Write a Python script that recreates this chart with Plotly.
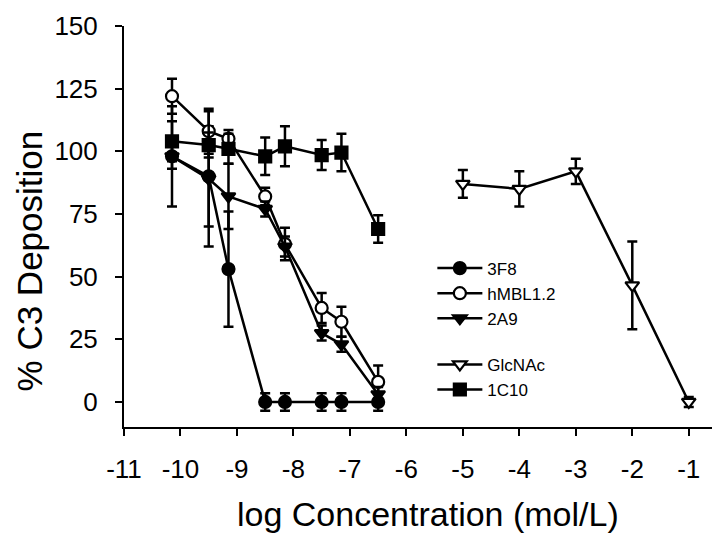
import plotly.graph_objects as go

# x positions (log mol/L)
x_ab = [-10.15, -9.5, -9.15, -8.5, -8.15, -7.5, -7.15, -6.5]
x_glc = [-5, -4, -3, -2, -1]

# series values (% C3 deposition) and error
y_3f8 = [98, 90, 53, 0, 0, 0, 0, 0]
e_3f8 = [20, 20, 23, 3.5, 3.5, 3.5, 3.5, 3.5]

y_hmbl = [122, 108, 105, 82, 63, 37.5, 32, 8]
e_hmbl = [7, 9, 3.5, 3.5, 6.5, 6, 6, 6.5]

y_2a9 = [98, 89, 82, 77, 62, 27.5, 23, 3]
e_2a9 = [5, 27, 13, 3, 4, 3, 3, 3]

y_glc = [87, 85, 92, 46.5, 0]
e_glc = [5.5, 7, 5, 17.5, 2]

y_1c10 = [104, 102.5, 101, 98, 102, 98.5, 99.5, 69]
e_1c10 = [8, 5, 6, 7.5, 8, 6, 7.5, 5.5]

x_ticks = list(range(-11, 0))
y_ticks = [0, 25, 50, 75, 100, 125, 150]

FONT = "Liberation Sans, Arial, sans-serif"

series = [
    ("3F8", x_ab, y_3f8, e_3f8, "circle", "black", "a"),
    ("hMBL1.2", x_ab, y_hmbl, e_hmbl, "circle", "white", "a"),
    ("2A9", x_ab, y_2a9, e_2a9, "triangle-down", "black", "a"),
    ("GlcNAc", x_glc, y_glc, e_glc, "triangle-down", "white", "b"),
    ("1C10", x_ab, y_1c10, e_1c10, "square", "black", "b"),
]

fig = go.Figure()
for name, xs, ys, es, sym, fill, grp in series:
    fig.add_trace(go.Scatter(
        x=xs, y=ys, name=name, mode="lines+markers",
        legendgroup=grp,
        line=dict(color="black", width=2.5),
        marker=dict(symbol=sym, size=12, color=fill,
                    line=dict(color="black", width=2.2)),
        error_y=dict(type="data", array=es, visible=True, color="black",
                     thickness=2.5, width=5),
    ))

fig.update_layout(
    width=712, height=535,
    margin=dict(l=116, r=3, t=7, b=116),
    paper_bgcolor="white", plot_bgcolor="white",
    font=dict(family=FONT, color="black"),
    showlegend=True,
    legend=dict(x=0.52, y=0.44, xanchor="left", yanchor="top",
                bgcolor="rgba(0,0,0,0)", font=dict(size=17, family=FONT),
                traceorder="grouped", tracegroupgap=21, itemwidth=45),
    xaxis=dict(range=[-11, -0.5], tickvals=x_ticks, ticktext=[str(v) for v in x_ticks],
               showgrid=False, zeroline=False, showline=True, linecolor="black", linewidth=2,
               ticks="outside", ticklen=7, tickwidth=2, tickcolor="black",
               ticklabelstandoff=11,
               tickfont=dict(size=26, family=FONT)),
    yaxis=dict(range=[-10, 150], tickvals=y_ticks,
               showgrid=False, zeroline=False, showline=True, linecolor="black", linewidth=2,
               ticks="outside", ticklen=7, tickwidth=2, tickcolor="black",
               ticklabelstandoff=12, ticklabeloverflow="allow",
               tickfont=dict(size=26, family=FONT)),
    annotations=[
        dict(text="log Concentration (mol/L)", xref="paper", yref="paper",
             x=0.5127, y=-0.217, xanchor="center", yanchor="middle", showarrow=False,
             font=dict(size=34, family=FONT)),
        dict(text="% C3 Deposition", xref="paper", yref="paper", textangle=-90,
             x=-0.159, y=0.4146, xanchor="center", yanchor="middle", showarrow=False,
             font=dict(size=35, family=FONT)),
    ],
)

fig.write_html("out.html")
